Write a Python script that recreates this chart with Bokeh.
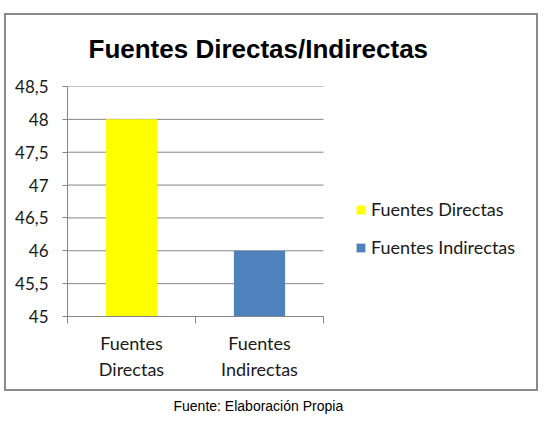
from bokeh.plotting import figure
from bokeh.models import (Range1d, FixedTicker, LinearAxis, Legend, LegendItem,
                          Title)
from bokeh.embed import file_html
from bokeh.resources import INLINE

categories = ["Fuentes Directas", "Fuentes Indirectas"]
axis_labels = ["Fuentes\nDirectas", "Fuentes\nIndirectas"]
values = [48, 46]
colors = ["#FFFF00", "#4F81BD"]
y_ticks = [45, 45.5, 46, 46.5, 47, 47.5, 48, 48.5]
y_tick_labels = ["45", "45,5", "46", "46,5", "47", "47,5", "48", "48,5"]
title_text = "Fuentes Directas/Indirectas"
caption_text = "Fuente: Elaboración Propia"

TICK_FONT = "Lato"
TXT = "#1a1a1a"
GRID = "#868686"
BORDER = "linear-gradient(#8a8a8a, #8a8a8a)"

# plot area spans 67..323 px for the categories; the frame continues to the
# right edge so the legend can sit inside it
n = len(categories)
x_end = n * (546 - 67) / (323 - 67)

p = figure(width=546, height=426, output_backend="svg", toolbar_location=None,
           x_range=Range1d(0, x_end), y_range=Range1d(45, 48.5),
           min_border_left=67, min_border_right=0, min_border_top=86,
           min_border_bottom=110, x_axis_type=None, y_axis_type=None,
           styles={
               "background-color": "white",
               "background-image": ", ".join([BORDER] * 4),
               "background-position": "4px 13px, 4px 389px, 4px 13px, 536px 13px",
               "background-size": "534px 2px, 534px 2px, 2px 378px, 2px 378px",
               "background-repeat": "no-repeat",
           })
p.outline_line_color = None
p.background_fill_color = None
p.background_fill_alpha = 0
p.border_fill_color = None
p.border_fill_alpha = 0
p.xgrid.grid_line_color = None
p.ygrid.grid_line_color = None

p.title.text = title_text
p.title.align = "left"
p.title.text_font = "Liberation Sans"
p.title.text_font_style = "bold"
p.title.text_font_size = "26px"
p.title.text_color = "black"
p.title.offset = 21
p.title.standoff = 45

# horizontal gridlines limited to the category area
p.segment(x0=[0] * len(y_ticks), x1=[n] * len(y_ticks), y0=y_ticks, y1=y_ticks,
          line_color=GRID, line_width=1, level="underlay")

renderers = []
for i, (cat, v, c) in enumerate(zip(categories, values, colors)):
    r = p.vbar(x=[i + 0.5], top=[v], bottom=45, width=0.4, fill_color=c, line_color=None)
    renderers.append((cat, r))

yaxis = LinearAxis(ticker=FixedTicker(ticks=y_ticks))
yaxis.major_label_overrides = {t: l for t, l in zip(y_ticks, y_tick_labels)}
yaxis.axis_line_color = GRID
yaxis.major_tick_line_color = GRID
yaxis.major_tick_out = 5
yaxis.major_tick_in = 0
yaxis.minor_tick_line_color = None
yaxis.major_label_text_font = TICK_FONT
yaxis.major_label_text_font_size = "17px"
yaxis.major_label_text_color = TXT
yaxis.major_label_standoff = 14
p.add_layout(yaxis, "left")

xaxis = LinearAxis(ticker=FixedTicker(ticks=list(range(n + 1))), bounds=(0, n))
xaxis.major_label_overrides = {i: "" for i in range(n + 1)}
xaxis.axis_line_color = GRID
xaxis.major_tick_line_color = GRID
xaxis.major_tick_out = 7
xaxis.major_tick_in = 0
xaxis.minor_tick_line_color = None
xaxis.major_label_text_font_size = "1px"
xaxis.major_label_standoff = 0
p.add_layout(xaxis, "below")

xlab = LinearAxis(ticker=FixedTicker(ticks=[i + 0.5 for i in range(n)]))
xlab.major_label_overrides = {i + 0.5: l for i, l in enumerate(axis_labels)}
xlab.axis_line_color = None
xlab.major_tick_line_color = None
xlab.minor_tick_line_color = None
xlab.major_label_text_font = TICK_FONT
xlab.major_label_text_font_size = "18px"
xlab.major_label_text_color = TXT
xlab.major_label_standoff = 2
p.add_layout(xlab, "below")

cap = Title(text=caption_text, align="left", offset=106, standoff=26,
            text_font="Liberation Sans", text_font_size="14px",
            text_font_style="normal", text_color="black")
p.add_layout(cap, "below")

legend = Legend(items=[LegendItem(label=cat, renderers=[r]) for cat, r in renderers],
                location=(288, 58), border_line_color=None, background_fill_alpha=0,
                glyph_width=11, glyph_height=11, spacing=16, padding=0, margin=0,
                label_text_font=TICK_FONT, label_text_font_size="18px",
                label_text_color=TXT, label_standoff=5)
p.add_layout(legend, "center")

open("out.html", "w").write(file_html(p, INLINE))
